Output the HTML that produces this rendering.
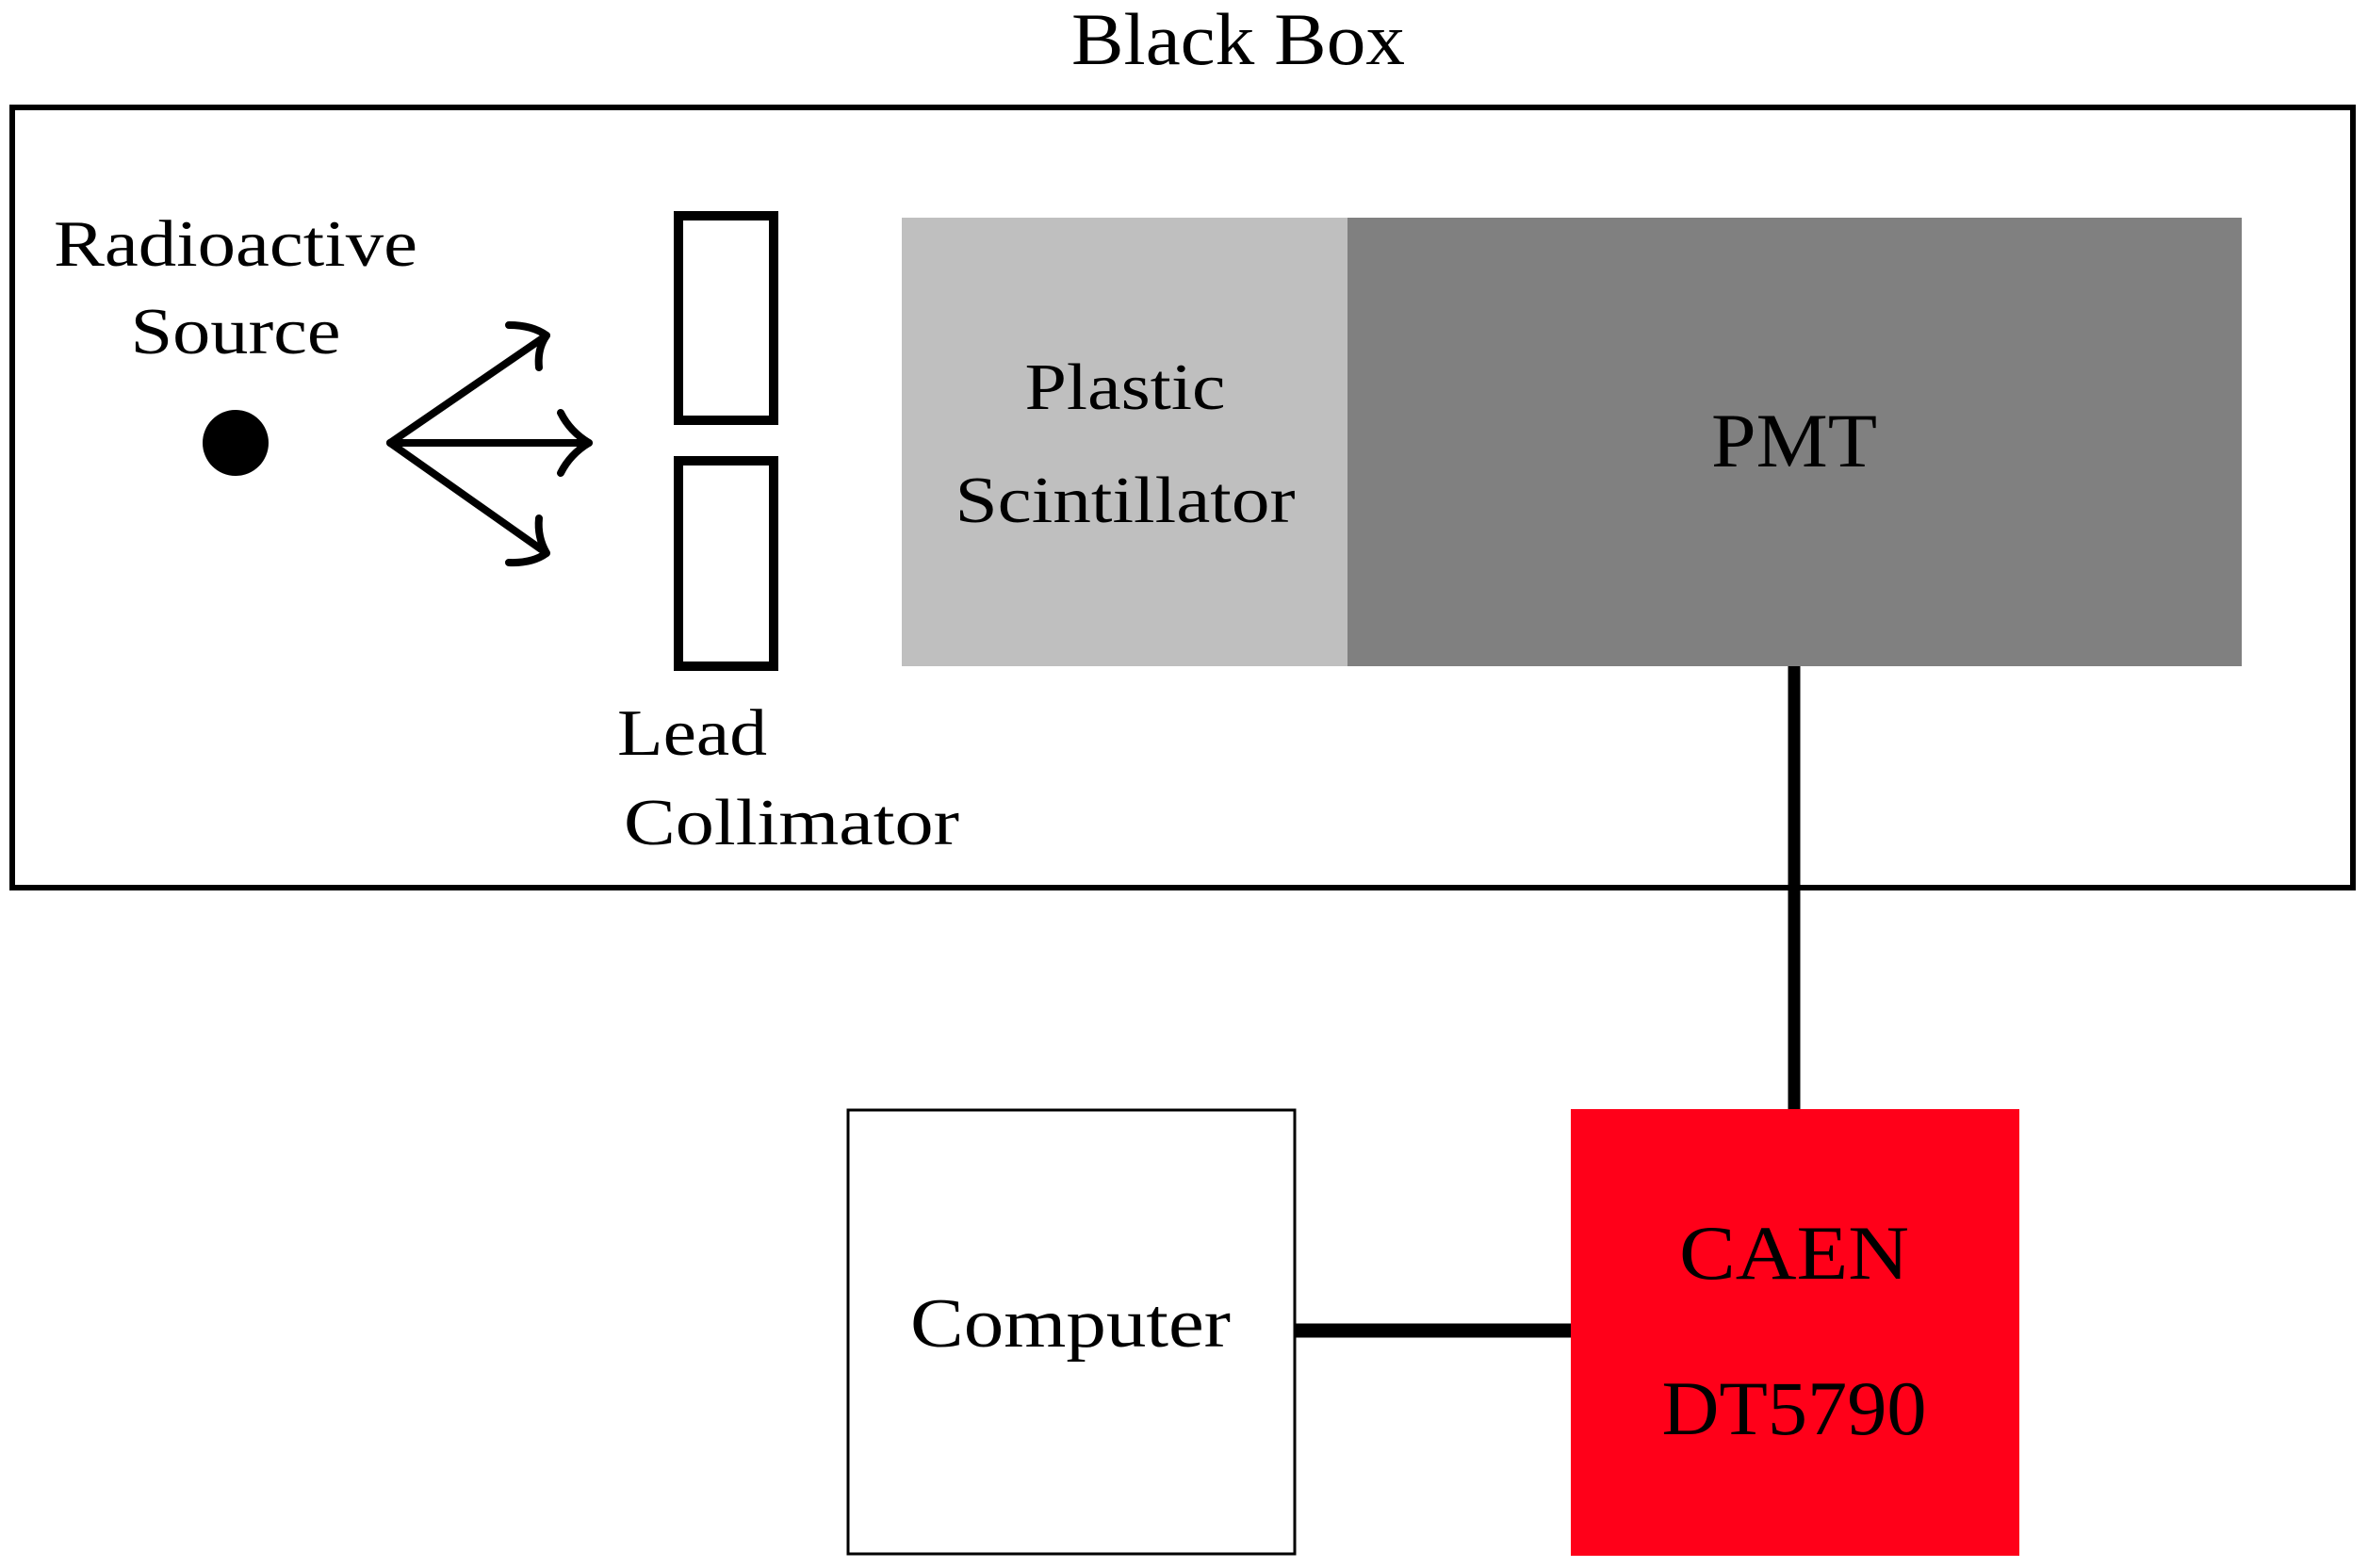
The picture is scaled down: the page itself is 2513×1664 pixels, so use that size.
<!DOCTYPE html>
<html><head><meta charset="utf-8"><style>html,body{margin:0;padding:0;background:#fff}svg{display:block}</style></head>
<body>
<svg width="2513" height="1664" viewBox="0 0 2513 1664" xmlns="http://www.w3.org/2000/svg" font-family="'Liberation Serif', serif">
<rect width="2513" height="1664" fill="#fff"/>
<text x="1314" y="68" font-size="78" text-anchor="middle" textLength="354" lengthAdjust="spacingAndGlyphs">Black Box</text>
<rect x="13" y="114" width="2484" height="828" fill="none" stroke="#000" stroke-width="6"/>
<text x="250" y="282" font-size="70" text-anchor="middle" textLength="386" lengthAdjust="spacingAndGlyphs">Radioactive</text>
<text x="250" y="375" font-size="70" text-anchor="middle" textLength="223" lengthAdjust="spacingAndGlyphs">Source</text>
<circle cx="250" cy="470" r="35" fill="#000"/>
<g stroke="#000" stroke-width="8" fill="none" stroke-linecap="round" stroke-linejoin="round">
<line x1="414" y1="470" x2="580" y2="356"/>
<line x1="414" y1="470" x2="625" y2="470"/>
<line x1="414" y1="470" x2="580" y2="587"/>
<path d="M540 345 Q565 345 580 356 Q570 370 572 390"/>
<path d="M595 438 Q605 458 625 470 Q605 482 595 502"/>
<path d="M572 550 Q570 570 580 587 Q565 598 540 597"/>
</g>
<rect x="720" y="229" width="101" height="217" fill="none" stroke="#000" stroke-width="10"/>
<rect x="720" y="489" width="101" height="218" fill="none" stroke="#000" stroke-width="10"/>
<text x="655" y="801" font-size="70" textLength="159" lengthAdjust="spacingAndGlyphs">Lead</text>
<text x="662" y="896" font-size="70" textLength="356" lengthAdjust="spacingAndGlyphs">Collimator</text>
<rect x="957" y="231" width="473" height="476" fill="#bfbfbf"/>
<rect x="1430" y="231" width="949" height="476" fill="#808080"/>
<text x="1194" y="434" font-size="70" text-anchor="middle" textLength="213" lengthAdjust="spacingAndGlyphs">Plastic</text>
<text x="1194" y="554" font-size="70" text-anchor="middle" textLength="361" lengthAdjust="spacingAndGlyphs">Scintillator</text>
<text x="1904" y="495" font-size="82" text-anchor="middle" textLength="176" lengthAdjust="spacingAndGlyphs">PMT</text>
<line x1="1904" y1="707" x2="1904" y2="1177" stroke="#000" stroke-width="13"/>
<line x1="1374" y1="1412" x2="1667" y2="1412" stroke="#000" stroke-width="15"/>
<rect x="1667" y="1177" width="476" height="474" fill="#ff0019"/>
<rect x="900" y="1178" width="474" height="471" fill="#fff" stroke="#000" stroke-width="3"/>
<text x="1136" y="1429" font-size="74" text-anchor="middle" textLength="340" lengthAdjust="spacingAndGlyphs">Computer</text>
<text x="1904" y="1357" font-size="82" text-anchor="middle" textLength="244" lengthAdjust="spacingAndGlyphs">CAEN</text>
<text x="1904" y="1522" font-size="82" text-anchor="middle" textLength="281" lengthAdjust="spacingAndGlyphs">DT5790</text>
</svg>
</body></html>
